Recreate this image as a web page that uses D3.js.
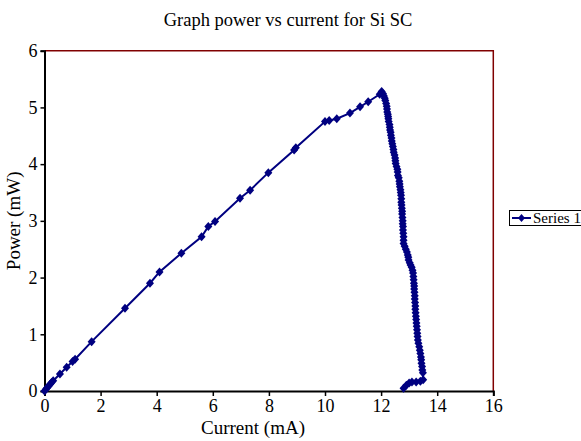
<!DOCTYPE html>
<html>
<head>
<meta charset="utf-8">
<script src="https://cdn.jsdelivr.net/npm/d3@7"></script>
<style>
  body { margin: 0; background: #fff; }
  text { font-family: "Liberation Serif", "Times New Roman", serif; }
</style>
</head>
<body>
<div class="plot1"></div>
<script>
// current (mA) and power (mW)
var currentUp = [0, 0.05, 0.1, 0.15, 0.2, 0.25, 0.31, 0.55, 0.79, 1.0, 1.09, 1.68, 2.87, 3.76, 4.1, 4.88,
  5.6, 5.84, 6.08, 6.97, 7.33, 7.98, 8.9, 8.96, 10.0, 10.15, 10.42, 10.89, 11.25, 11.54, 11.95, 12.02];
var powerUp = [0, 0.03, 0.06, 0.09, 0.12, 0.15, 0.18, 0.3, 0.42, 0.52, 0.56, 0.87, 1.46, 1.9, 2.1, 2.43,
  2.72, 2.9, 2.99, 3.4, 3.54, 3.85, 4.25, 4.29, 4.75, 4.77, 4.8, 4.9, 5.01, 5.1, 5.23, 5.28];
var currentDown = [12.07, 12.1, 12.13, 12.15, 12.18, 12.2, 12.21, 12.22, 12.24, 12.25, 12.26, 12.27, 12.3, 12.31,
  12.32, 12.34, 12.35, 12.37, 12.38, 12.4, 12.42, 12.44, 12.45, 12.48, 12.5, 12.51, 12.52, 12.55,
  12.58, 12.59, 12.6, 12.63, 12.65, 12.66, 12.67, 12.69, 12.7, 12.71, 12.72, 12.72, 12.73, 12.74, 12.75, 12.75,
  12.76, 12.77, 12.77, 12.78, 12.78, 12.79, 12.8, 12.8, 12.8, 12.84, 12.88, 12.92, 12.95, 12.97, 12.98, 13.02,
  13.05, 13.09, 13.12, 13.14, 13.15, 13.16, 13.17, 13.18, 13.18, 13.19, 13.2, 13.2, 13.21, 13.22, 13.22, 13.23,
  13.24, 13.25, 13.26, 13.27, 13.28, 13.29, 13.3, 13.31, 13.33, 13.36, 13.38, 13.4, 13.42, 13.43, 13.44, 13.46,
  13.47, 13.49, 13.5, 13.4, 13.25, 13.1, 13.0, 12.9, 12.8];
var powerDown = [5.24, 5.2, 5.16, 5.12, 5.07, 5.02, 4.97, 4.92, 4.88, 4.84, 4.8, 4.75, 4.7, 4.65,
  4.6, 4.56, 4.51, 4.46, 4.41, 4.36, 4.31, 4.26, 4.21, 4.16, 4.11, 4.06, 4.01, 3.96,
  3.91, 3.86, 3.8, 3.76, 3.7, 3.65, 3.6, 3.55, 3.5, 3.45, 3.39, 3.33, 3.28, 3.22, 3.17, 3.12,
  3.06, 3.0, 2.95, 2.9, 2.84, 2.78, 2.72, 2.66, 2.6, 2.55, 2.5, 2.45, 2.4, 2.36, 2.31, 2.26,
  2.22, 2.18, 2.13, 2.08, 2.02, 1.96, 1.9, 1.85, 1.8, 1.74, 1.68, 1.62, 1.56, 1.5, 1.44, 1.38,
  1.32, 1.26, 1.2, 1.14, 1.08, 1.02, 0.96, 0.9, 0.84, 0.78, 0.72, 0.66, 0.6, 0.55, 0.49, 0.43,
  0.37, 0.32, 0.2, 0.17, 0.16, 0.16, 0.14, 0.1, 0.05];
var xTicks = [0, 2, 4, 6, 8, 10, 12, 14, 16];
var yTicks = [0, 1, 2, 3, 4, 5, 6];
var seriesName = "Series 1";

drawChart();

function drawChart() {
  var pts = [];
  for (var i = 0; i < currentUp.length; i++) pts.push({x: currentUp[i], y: powerUp[i]});
  for (var i = 0; i < currentDown.length; i++) pts.push({x: currentDown[i], y: powerDown[i]});

  var W = 581, H = 441;
  var pLeft = 44.5, pRight = 493.3, pTop = 50.7, pBottom = 391;
  var navy = "#000080";
  var diamond = "M0,-4.5L4,0L0,4.5L-4,0Z";

  var svg = d3.select(".plot1").append("svg")
    .attr("width", W)
    .attr("height", H);

  var x = d3.scaleLinear().domain([0, 16]).range([pLeft, pRight]);
  var y = d3.scaleLinear().domain([0, 6]).range([pBottom, pTop]);

  // dark red frame on top and right
  svg.append("path")
    .attr("d", "M" + pLeft + "," + pTop + "H" + pRight + "V" + pBottom)
    .attr("fill", "none")
    .attr("stroke", "#800000")
    .attr("stroke-width", 1.5);

  var xAxis = svg.append("g")
    .attr("transform", "translate(0," + pBottom + ")")
    .call(d3.axisBottom(x).tickValues(xTicks).tickFormat(d3.format("d")).tickSize(5).tickPadding(3));
  var yAxis = svg.append("g")
    .attr("transform", "translate(" + pLeft + ",0)")
    .call(d3.axisLeft(y).tickValues(yTicks).tickFormat(d3.format("d")).tickSize(4).tickPadding(3));

  [xAxis, yAxis].forEach(function(a) {
    a.select(".domain").attr("stroke", "#000").attr("stroke-width", 2);
    a.selectAll(".tick line").attr("stroke", "#000").attr("stroke-width", 1.5);
    a.selectAll(".tick text")
      .attr("fill", "#000")
      .style("font-family", "Liberation Serif")
      .style("font-size", "18px");
  });

  svg.append("path")
    .datum(pts)
    .attr("d", d3.line().x(function(d) { return x(d.x); }).y(function(d) { return y(d.y); }))
    .attr("fill", "none")
    .attr("stroke", navy)
    .attr("stroke-width", 2);

  svg.selectAll("path.mk")
    .data(pts)
    .enter()
    .append("path")
    .attr("class", "mk")
    .attr("d", diamond)
    .attr("transform", function(d) { return "translate(" + x(d.x) + "," + y(d.y) + ")"; })
    .attr("fill", navy);

  svg.append("text")
    .attr("x", 288)
    .attr("y", 26)
    .attr("text-anchor", "middle")
    .style("font-size", "18.5px")
    .text("Graph power vs current for Si SC");

  svg.append("text")
    .attr("x", 253)
    .attr("y", 434)
    .attr("text-anchor", "middle")
    .style("font-size", "19px")
    .text("Current (mA)");

  svg.append("text")
    .attr("transform", "translate(20," + ((pTop + pBottom) / 2) + ") rotate(-90)")
    .attr("text-anchor", "middle")
    .style("font-size", "19px")
    .text("Power (mW)");

  // legend
  var lg = svg.append("g");
  lg.append("rect")
    .attr("x", 509.5)
    .attr("y", 210.5)
    .attr("width", 90)
    .attr("height", 15)
    .attr("fill", "#fff")
    .attr("stroke", "#000")
    .attr("stroke-width", 1);
  lg.append("line")
    .attr("x1", 512).attr("x2", 531)
    .attr("y1", 218).attr("y2", 218)
    .attr("stroke", navy)
    .attr("stroke-width", 2);
  lg.append("path")
    .attr("d", "M0,-4L3.5,0L0,4L-3.5,0Z")
    .attr("transform", "translate(521.5,218)")
    .attr("fill", navy);
  lg.append("text")
    .attr("x", 533)
    .attr("y", 223)
    .style("font-size", "15px")
    .text(seriesName);
}
</script>
</body>
</html>
